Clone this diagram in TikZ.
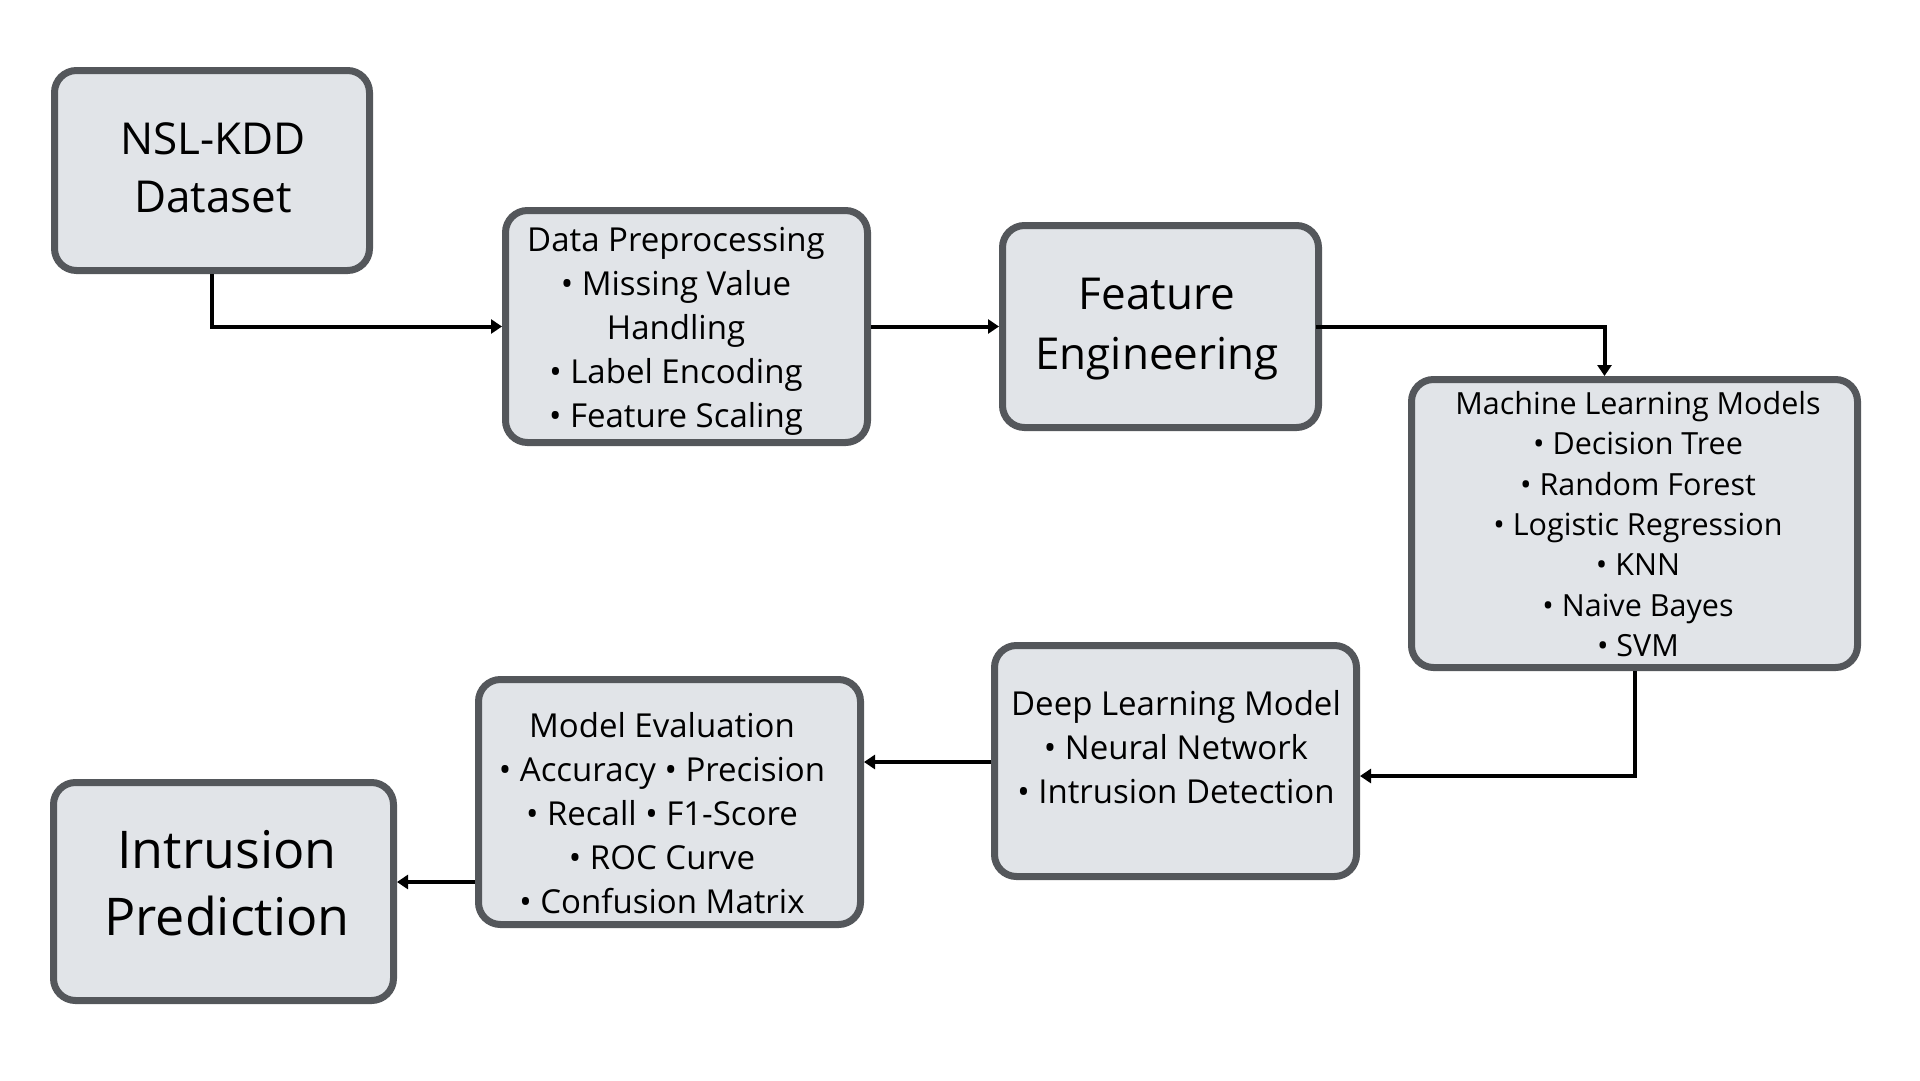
\documentclass[tikz,border=0pt]{standalone}
\usepackage{fontspec}
\setmainfont{Open Sans}
\usetikzlibrary{arrows.meta}
\definecolor{boxfill}{HTML}{E1E4E8}
\definecolor{boxline}{HTML}{54575B}
\tikzset{
  box/.style={draw=boxline, fill=boxfill, line width=7pt, rounded corners=22pt, inner sep=0pt},
  lbl/.style={align=center, text=black, inner sep=0pt},
  small/.style={font=\fontsize{33}{44}\selectfont},
  flow/.style={line width=4pt, -{Triangle[length=11pt,width=14pt]}}
}
\begin{document}
\begin{tikzpicture}[x=1pt,y=-1pt]
\useasboundingbox (0,0) rectangle (1920,1080);
% boxes
\node[box, minimum width=315pt, minimum height=200pt] (b1) at (212,170.5) {};
\node[box, minimum width=362pt, minimum height=232pt] (b2) at (686.5,326.5) {};
\node[box, minimum width=316pt, minimum height=202pt] (b3) at (1160.5,326.5) {};
\node[box, minimum width=446pt, minimum height=288pt] (b4) at (1634.5,523.5) {};
\node[box, minimum width=362pt, minimum height=231pt] (b5) at (1175.5,761) {};
\node[box, minimum width=382pt, minimum height=245pt] (b6) at (669.5,802) {};
\node[box, minimum width=340pt, minimum height=218pt] (b7) at (223.5,891.5) {};
% texts
\node[lbl, font=\fontsize{44}{58}\selectfont] (t1) at (213,168) {NSL-KDD\\Dataset};
\node[lbl, small] (t2) at (676,331) {Data Preprocessing\\• Missing Value\\Handling\\• Label Encoding\\• Feature Scaling};
\node[lbl, font=\fontsize{44}{60}\selectfont] (t3) at (1157,329) {Feature\\Engineering};
\node[lbl, font=\fontsize{30.5}{40.4}\selectfont] (t4) at (1638,524) {Machine Learning Models\\• Decision Tree\\• Random Forest\\• Logistic Regression\\• KNN\\• Naive Bayes\\• SVM};
\node[lbl, small] (t5) at (1176,747) {Deep Learning Model\\• Neural Network\\• Intrusion Detection};
\node[lbl, small] (t6) at (662,813) {Model Evaluation\\• Accuracy • Precision\\• Recall • F1-Score\\• ROC Curve\\• Confusion Matrix};
\node[lbl, font=\fontsize{52}{67}\selectfont] (t7) at (227,883) {Intrusion\\Prediction};
% connectors
\draw[flow] (b1.south) |- (b2.west);
\draw[flow] (b2.east) -- (b3.west);
\draw[flow] ([xshift=-6pt]b3.east) -| ([xshift=-30pt]b4.north);
\draw[flow] (b4.south) |- (b5.east |- 0,776);
\draw[flow] (b5.west |- 0,762) -- (b6.east |- 0,762);
\draw[flow] (b6.west |- 0,882) -- (b7.east |- 0,882);
\end{tikzpicture}
\end{document}
